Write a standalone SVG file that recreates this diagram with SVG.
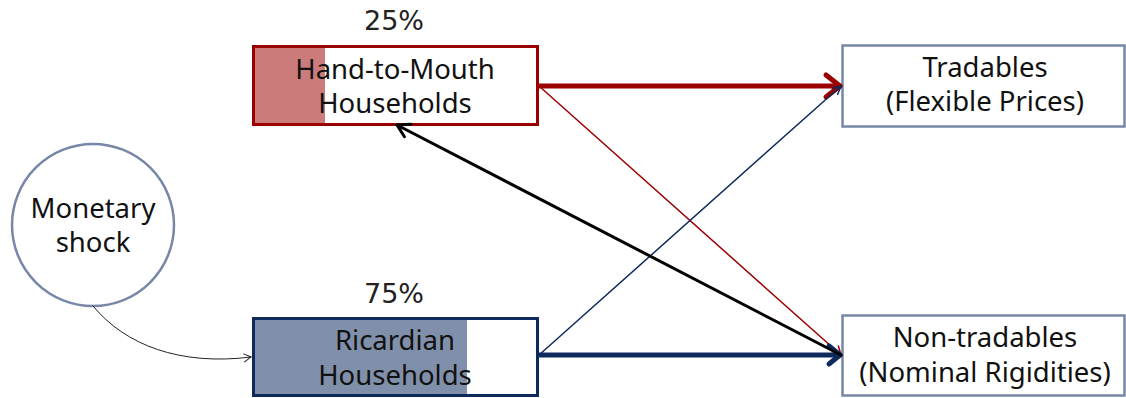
<svg xmlns="http://www.w3.org/2000/svg" width="1126" height="398" viewBox="0 0 1126 398">
<style>
  text { font-family: "Noto Sans", "Open Sans", sans-serif; font-size: 27.5px; fill: #111; text-anchor: middle; }
  .pct { font-family: "DejaVu Sans", sans-serif; font-size: 27px; fill: #222; }
  .box { fill: #ffffff; stroke-width: 3; }
  .sec { fill: #ffffff; stroke: #7787a7; stroke-width: 2.5; }
  .edge { fill: none; stroke-linecap: round; }
</style>
<defs>
  <marker id="ahRedThick" markerUnits="userSpaceOnUse" markerWidth="22" markerHeight="30" viewBox="-4 -14 22 28" refX="14" refY="0" orient="auto">
    <path d="M0,-11 L14,0 L0,11" fill="none" stroke="#9b0000" stroke-width="5" stroke-linecap="round" stroke-linejoin="round"/>
  </marker>
  <marker id="ahNavyThick" markerUnits="userSpaceOnUse" markerWidth="20" markerHeight="30" viewBox="-2 -14 20 28" refX="14" refY="0" orient="auto">
    <path d="M3,-9 L14,0 L3,9" fill="none" stroke="#0e2a5c" stroke-width="5" stroke-linecap="round" stroke-linejoin="round"/>
  </marker>
  <marker id="ahRedThin" markerUnits="userSpaceOnUse" markerWidth="14" markerHeight="14" viewBox="-2 -7 14 14" refX="10" refY="0" orient="auto">
    <path d="M2,-5 L10,0 L2,5" fill="none" stroke="#9b0000" stroke-width="1.5" stroke-linecap="round"/>
  </marker>
  <marker id="ahNavyThin" markerUnits="userSpaceOnUse" markerWidth="14" markerHeight="14" viewBox="-2 -7 14 14" refX="10" refY="0" orient="auto">
    <path d="M2,-4 L10,0 L2,4" fill="none" stroke="#0e2a5c" stroke-width="1.5" stroke-linecap="round"/>
  </marker>
  <marker id="ahBlack" markerUnits="userSpaceOnUse" markerWidth="20" markerHeight="20" viewBox="-2 -10 20 20" refX="14" refY="0" orient="auto">
    <path d="M2,-7 L14,0 L2,7" fill="none" stroke="#000" stroke-width="3" stroke-linecap="round" stroke-linejoin="round"/>
  </marker>
  <marker id="ahBlackThin" markerUnits="userSpaceOnUse" markerWidth="12" markerHeight="12" viewBox="-2 -6 12 12" refX="8" refY="0" orient="auto">
    <path d="M1,-4 L8,0 L1,4" fill="none" stroke="#222" stroke-width="1" stroke-linecap="round"/>
  </marker>
</defs>

<g id="node-htm">
  <rect class="box" x="253.5" y="46.5" width="284" height="78" stroke="#9b0000"/>
  <rect x="255" y="48" width="70" height="75" fill="#cc7b7b"/>
  <text x="395" y="79">Hand-to-Mouth</text>
  <text x="395" y="113">Households</text>
  <text class="pct" x="394" y="30">25%</text>
</g>

<g id="node-ric">
  <rect class="box" x="253.5" y="318.5" width="284" height="77" stroke="#0e2a5c"/>
  <rect x="255" y="320" width="212" height="74" fill="#8190aa"/>
  <text x="395" y="350">Ricardian</text>
  <text x="395" y="385">Households</text>
  <text class="pct" x="394" y="303">75%</text>
</g>

<g id="node-trad">
  <rect class="sec" x="842.5" y="45.5" width="282" height="81"/>
  <text x="985" y="77">Tradables</text>
  <text x="985" y="111">(Flexible Prices)</text>
</g>

<g id="node-nontrad">
  <rect class="sec" x="842.5" y="315.5" width="282" height="80"/>
  <text x="985" y="347">Non-tradables</text>
  <text x="985" y="382">(Nominal Rigidities)</text>
</g>

<g id="node-shock">
  <circle cx="93" cy="225" r="81" fill="#ffffff" stroke="#7787a7" stroke-width="2.5"/>
  <text x="93" y="218">Monetary</text>
  <text x="93" y="252">shock</text>
</g>

<g id="connectors">
  <path class="edge" d="M539,86 L840,86" stroke="#9b0000" stroke-width="5" marker-end="url(#ahRedThick)"/>
  <path class="edge" d="M539,86 L841,355" stroke="#9b0000" stroke-width="1.5" marker-end="url(#ahRedThin)"/>
  <path class="edge" d="M539,355 L841,86" stroke="#0e2a5c" stroke-width="1.5" marker-end="url(#ahNavyThin)"/>
  <path class="edge" d="M539,355 L840,355" stroke="#0e2a5c" stroke-width="5" marker-end="url(#ahNavyThick)"/>
  <path class="edge" d="M841,355 L397,125" stroke="#000" stroke-width="3" marker-end="url(#ahBlack)"/>
  <path class="edge" d="M93,306 C125,345 180,366 251,357" stroke="#222" stroke-width="1" marker-end="url(#ahBlackThin)"/>
</g>
</svg>
